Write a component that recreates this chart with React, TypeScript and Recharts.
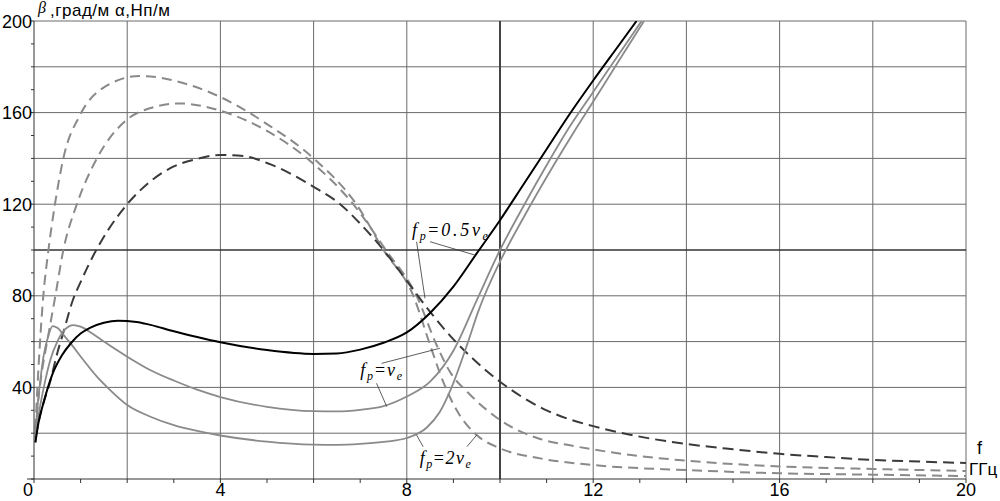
import { LineChart, Line, XAxis, YAxis, ReferenceLine, ReferenceDot } from "recharts";

// β (phase constant), solid curves
const betaHalfX = [0.03, 0.1, 0.2, 0.4, 0.6, 0.8, 1.0, 1.2, 1.5, 1.8, 2.2, 2.5, 3.0, 3.5, 4.0, 5.0, 6.0, 6.5, 7.0, 7.5, 8.0, 8.5, 9.0, 9.5, 10.0, 10.5, 11.0, 11.5, 12.0, 12.5, 12.93];
const betaHalfY = [16, 25, 33, 46, 54, 59.5, 63.5, 66, 68.2, 69.1, 68.6, 67.3, 64.5, 62, 59.7, 56.3, 54.6, 54.8, 56.5, 59.5, 64, 72.5, 84, 98.5, 113, 128.5, 144, 159.5, 174, 188, 200];

const betaOneX = [0.03, 0.1, 0.2, 0.35, 0.5, 0.65, 0.85, 1.0, 1.25, 1.5, 2.0, 2.5, 3.0, 3.5, 4.0, 5.0, 6.0, 6.5, 7.0, 7.5, 8.0, 8.5, 9.0, 9.5, 10.0, 10.5, 11.0, 11.5, 12.0, 12.5, 13.04];
const betaOneY = [16, 28, 39, 52, 60, 65, 67.2, 66.5, 63.5, 60, 53.4, 47.5, 43, 39, 35.8, 31.5, 29.6, 29.5, 30.2, 31.8, 36, 42.5, 56, 78, 100, 119, 137, 154, 169, 184, 200];

const betaTwoX = [0.03, 0.07, 0.13, 0.2, 0.3, 0.4, 0.5, 0.65, 0.84, 1.0, 1.35, 1.6, 2.0, 2.5, 3.0, 3.5, 4.0, 5.0, 6.0, 6.5, 7.0, 7.5, 8.0, 8.43, 8.7, 8.93, 9.3, 9.53, 10.05, 10.5, 11.18, 11.6, 12.07, 12.5, 13.09];
const betaTwoY = [16, 30, 42, 53, 62, 66.8, 66, 62.5, 57.8, 53.5, 44.7, 39.5, 32.3, 27.2, 23.5, 21, 19, 16.3, 15, 14.9, 15.3, 16.2, 17.9, 22.5, 29, 38.5, 59, 73, 97, 114, 138, 152, 167, 181, 200];

// α (attenuation), dashed curves
const alphaHalfX = [0.03, 0.1, 0.2, 0.34, 0.5, 0.63, 0.84, 1.0, 1.31, 1.6, 2.0, 2.5, 3.0, 3.5, 4.0, 4.5, 5.0, 6.0, 6.57, 7.0, 7.5, 8.0, 8.5, 9.0, 9.5, 10.0, 10.5, 11.0, 11.5, 12.0, 13.0, 14.0, 15.0, 16.0, 17.0, 18.0, 19.0, 20.0];
const alphaHalfY = [18, 25, 33, 42, 55, 64, 78.5, 86, 99, 109, 120, 130, 136.5, 139.8, 141.5, 141, 138, 127.6, 120, 111.5, 100, 86.5, 73, 61, 51, 42.5, 35.5, 30, 26, 23.1, 18.5, 15.3, 13, 11, 9.6, 8.3, 7.6, 7];

const alphaOneX = [0.03, 0.08, 0.15, 0.3, 0.45, 0.63, 0.92, 1.35, 2.0, 2.5, 3.13, 4.0, 5.0, 5.92, 6.85, 7.55, 8.21, 8.64, 8.95, 9.3, 10.0, 10.86, 11.5, 12.0, 13.0, 14.0, 16.0, 18.0, 20.0];
const alphaOneY = [20, 32, 44, 62, 79, 100, 120, 140, 157, 162, 164, 160.8, 152, 139, 120, 100, 80, 58.5, 46, 38, 25.8, 17.5, 14.7, 12.9, 10, 8, 5.5, 4.4, 3.5];

const alphaTwoX = [0.03, 0.1, 0.2, 0.31, 0.45, 0.63, 0.99, 1.5, 2.27, 3.35, 4.0, 5.0, 6.0, 6.93, 7.5, 8.14, 8.5, 8.78, 9.1, 9.5, 10.0, 10.86, 12.0, 14.0, 16.0, 18.0, 20.0];
const alphaTwoY = [22, 50, 80, 100, 120, 140, 159, 171, 176, 172, 166.8, 155, 140, 119.6, 100, 80, 58.5, 42.5, 29, 19.2, 13.4, 9, 6.1, 3.9, 2.5, 1.9, 1.3];

const xTicks = [0, 1, 2, 3, 4, 5, 6, 7, 8, 9, 10, 11, 12, 13, 14, 15, 16, 17, 18, 19, 20];
const xLabels = [0, 4, 8, 12, 16, 20];
const yTicks = [0, 10, 20, 30, 40, 50, 60, 70, 80, 90, 100, 110, 120, 130, 140, 150, 160, 170, 180, 190, 200];
const yLabels = [40, 80, 120, 160, 200];
const gridX = [2, 4, 6, 8, 12, 14, 16, 18, 20];
const gridY = [20, 40, 60, 80, 120, 140, 160, 180, 200];

// leader lines from the formula labels to their curves
const leaders = [
  [8.5, 103.6, 9.46, 97.8],
  [8.21, 103.6, 8.39, 78.9],
  [7.46, 50.5, 8.71, 57.1],
  [7.35, 41.8, 7.57, 31.6],
  [8.21, 19.2, 8.35, 14.1],
  [9.5, 19.2, 9.29, 14.1],
];

const formulas = [
  { x: 8.11, y: 106, value: "0.5", width: 76 },
  { x: 7.0, y: 45, value: "", width: 42 },
  { x: 8.28, y: 6.5, value: "2", width: 51 },
];

const toPoints = (xs: number[], ys: number[]) => xs.map((x, i) => ({ x, y: ys[i] }));

const sans = "Liberation Sans, Arial, sans-serif";
const serif = "Liberation Serif, Times New Roman, serif";

const XTick = (props: any) => {
  const { x, y, payload } = props;
  const v = payload.value;
  if (!xLabels.includes(v)) return <g />;
  return (
    <text x={x + (v === 0 ? -6 : 0)} y={y + 12.5} textAnchor="middle" fontSize={18} fontFamily={sans} fill="#000">
      {v}
    </text>
  );
};

const YTick = (props: any) => {
  const { x, y, payload } = props;
  const v = payload.value;
  if (!yLabels.includes(v)) return <g />;
  return (
    <text x={x + 1} y={y + 6.5} textAnchor="end" fontSize={18} fontFamily={sans} fill="#000">
      {v}
    </text>
  );
};

const formulaLabel = (value: string, width: number) => (props: any) => {
  const { x, y } = props.viewBox;
  return (
    <text x={x} y={y} fontFamily={serif} fontStyle="italic" fontSize={18} fill="#000" textLength={width} lengthAdjust="spacing">
      <tspan>f</tspan>
      <tspan dy={4} fontSize={12}>p</tspan>
      <tspan dy={-4} fontStyle="normal">=</tspan>
      <tspan>{value}ν</tspan>
      <tspan dy={4} fontSize={12}>e</tspan>
    </text>
  );
};

export default function App() {
  return (
    <div style={{ position: "absolute", left: 0, top: 0, width: 1000, height: 501, background: "#fff" }}>
      <LineChart width={1000} height={501} margin={{ top: 21, right: 34, bottom: 0, left: 0 }}>
        <XAxis
          type="number"
          dataKey="x"
          domain={[0, 20]}
          ticks={xTicks}
          interval={0}
          height={22}
          tickSize={4}
          tickMargin={0}
          tick={XTick}
          stroke="#333"
          allowDataOverflow
        />
        <YAxis
          type="number"
          dataKey="y"
          domain={[0, 200]}
          ticks={yTicks}
          interval={0}
          width={34}
          tickSize={3}
          tickMargin={0}
          tick={YTick}
          stroke="#333"
          allowDataOverflow
        />
        {gridX.map((v) => (
          <ReferenceLine key={`gx${v}`} x={v} stroke="#6a6a6a" strokeWidth={1} />
        ))}
        {gridY.map((v) => (
          <ReferenceLine key={`gy${v}`} y={v} stroke="#6a6a6a" strokeWidth={1} />
        ))}
        <ReferenceLine x={10} stroke="#444" strokeWidth={2} />
        <ReferenceLine y={100} stroke="#333" strokeWidth={1.6} />
        <ReferenceLine segment={[{ x: -0.15, y: 0 }, { x: 0, y: 0 }]} stroke="#333" ifOverflow="visible" />

        <Line data={toPoints(alphaTwoX, alphaTwoY)} dataKey="y" type="monotone" stroke="#8a8a8a" strokeWidth={2} strokeDasharray="10 6" dot={false} isAnimationActive={false} />
        <Line data={toPoints(alphaOneX, alphaOneY)} dataKey="y" type="monotone" stroke="#8a8a8a" strokeWidth={2} strokeDasharray="10 6" dot={false} isAnimationActive={false} />
        <Line data={toPoints(alphaHalfX, alphaHalfY)} dataKey="y" type="monotone" stroke="#3a3a3a" strokeWidth={2} strokeDasharray="11 6" dot={false} isAnimationActive={false} />
        <Line data={toPoints(betaTwoX, betaTwoY)} dataKey="y" type="monotone" stroke="#8a8a8a" strokeWidth={1.8} dot={false} isAnimationActive={false} />
        <Line data={toPoints(betaOneX, betaOneY)} dataKey="y" type="monotone" stroke="#8a8a8a" strokeWidth={1.8} dot={false} isAnimationActive={false} />
        <Line data={toPoints(betaHalfX, betaHalfY)} dataKey="y" type="monotone" stroke="#000" strokeWidth={2} dot={false} isAnimationActive={false} />

        {leaders.map(([x1, y1, x2, y2], i) => (
          <ReferenceLine key={`ld${i}`} segment={[{ x: x1, y: y1 }, { x: x2, y: y2 }]} stroke="#333" strokeWidth={0.8} />
        ))}
        {formulas.map((f, i) => (
          <ReferenceDot key={`fm${i}`} x={f.x} y={f.y} r={0} fill="none" stroke="none" label={formulaLabel(f.value, f.width)} />
        ))}
      </LineChart>
      <svg width={1000} height={501} style={{ position: "absolute", left: 0, top: 0, pointerEvents: "none" }}>
        <text x={38} y={13} fontFamily={serif} fontStyle="italic" fontSize={16} fill="#000">β</text>
        <text x={50} y={16} fontFamily={sans} fontSize={17} fill="#000" textLength={120} lengthAdjust="spacing">,град/м  α,Нп/м</text>
        <text x={977} y={454} fontFamily={sans} fontSize={18} fill="#000">f</text>
        <text x={969} y={475} fontFamily={sans} fontSize={17} fill="#000">ГГц</text>
      </svg>
    </div>
  );
}
